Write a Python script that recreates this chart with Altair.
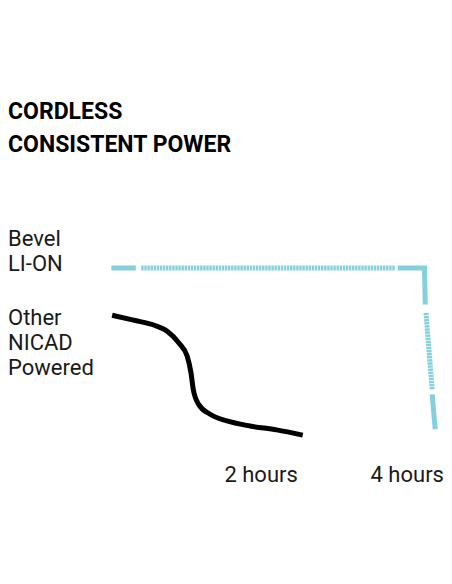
import pandas as pd
import altair as alt

# other NiCad powered tool: power fades away (hours, % of full power)
nicad_hours = [0.06, 0.34, 0.62, 0.78, 0.93, 1.04, 1.09, 1.12, 1.19, 1.34, 1.56, 1.86, 2.21, 2.55]
nicad_power = [72.2, 69.3, 66.2, 62.8, 56.0, 48.2, 38.4, 28.6, 19.8, 14.0, 10.1, 7.1, 4.8, 1.7]

# Bevel Li-ion: flat all the way, then the drop. drawn as separate pieces
lion_piece = ["a", "a", "b", "b", "c", "c", "c", "d", "d", "e", "e"]
lion_kind = ["solid", "solid", "hatched", "hatched", "solid", "solid", "solid",
             "hatched", "hatched", "solid", "solid"]
lion_hours = [0.05, 0.37, 0.44, 3.76, 3.79, 4.14, 4.15, 4.16, 4.24, 4.24, 4.28]
lion_power = [100, 100, 100, 100, 100, 100, 78.5, 73.6, 28.6, 25.7, 5.2]

tick_hours = [2, 4]
lion_label = ["Bevel", "LI-ON"]
nicad_label = ["Other", "NICAD", "Powered"]
title_lines = ["CORDLESS", "CONSISTENT POWER"]

BLUE = "#84d0dc"
FONT = "Roboto"

df_nicad = pd.DataFrame({"hours": nicad_hours, "power": nicad_power})
df_lion = pd.DataFrame({
    "piece": lion_piece,
    "kind": lion_kind,
    "hours": lion_hours,
    "power": lion_power,
})
df_lion["step"] = range(len(df_lion))

x_enc = alt.X(
    "hours:Q",
    scale=alt.Scale(domain=[-1.3, 4.395], nice=False, zero=False),
    axis=alt.Axis(
        values=tick_hours,
        labelExpr="datum.value + ' hours'",
        title="",
        domain=False,
        ticks=False,
        grid=False,
        labelFont=FONT,
        labelFontSize=22,
        labelColor="#1a1a1a",
        labelPadding=4,
        labelFlush=False,
        labelOverlap=False,
        labelBound=False,
        # last label would run off the page edge
        labelOffset=alt.ConditionalAxisNumber(
            condition={"test": "datum.value == 4", "value": -7}, value=0
        ),
    ),
)
y_enc = alt.Y(
    "power:Q",
    scale=alt.Scale(domain=[-12.9, 157.6], nice=False, zero=False),
    axis=None,
)

lion = (
    alt.Chart(df_lion)
    .mark_line(color=BLUE, strokeWidth=5, strokeCap="butt", strokeJoin="miter")
    .encode(
        x_enc,
        y_enc,
        detail="piece:N",
        order="step:Q",
        strokeDash=alt.StrokeDash(
            "kind:N",
            scale=alt.Scale(domain=["solid", "hatched"], range=[[1, 0], [2.4, 0.7]]),
            legend=None,
        ),
    )
)

nicad = (
    alt.Chart(df_nicad)
    .mark_line(color="black", strokeWidth=5, strokeCap="butt", interpolate="monotone")
    .encode(x_enc, y_enc)
)

lion_text = (
    alt.Chart(pd.DataFrame({"label": ["\n".join(lion_label)], "power": [lion_power[0]]}))
    .mark_text(align="left", baseline="bottom", lineBreak="\n", lineHeight=25,
               font=FONT, fontSize=22, color="#1a1a1a", dy=-17)
    .encode(x=alt.value(0), y=y_enc, text="label:N")
)

nicad_text = (
    alt.Chart(pd.DataFrame({"label": ["\n".join(nicad_label)], "power": [nicad_power[0]]}))
    .mark_text(align="left", baseline="top", lineBreak="\n", lineHeight=25,
               font=FONT, fontSize=22, color="#1a1a1a", dy=-7)
    .encode(x=alt.value(0), y=y_enc, text="label:N")
)

chart = (
    alt.layer(lion, nicad, lion_text, nicad_text)
    .properties(
        width=436,
        height=290,
        autosize=alt.AutoSizeParams(type="none"),
        padding={"left": 0, "top": 162, "right": 0, "bottom": 116},
        background="white",
        title=alt.TitleParams(
            text=title_lines,
            anchor="start",
            font=FONT,
            fontSize=23,
            fontWeight="bold",
            color="black",
            baseline="bottom",
            lineHeight=33,
            offset=-10,
        ),
    )
    .configure_view(strokeWidth=0)
)

chart.save("out.html", embed_options={"renderer": "svg", "actions": False})
